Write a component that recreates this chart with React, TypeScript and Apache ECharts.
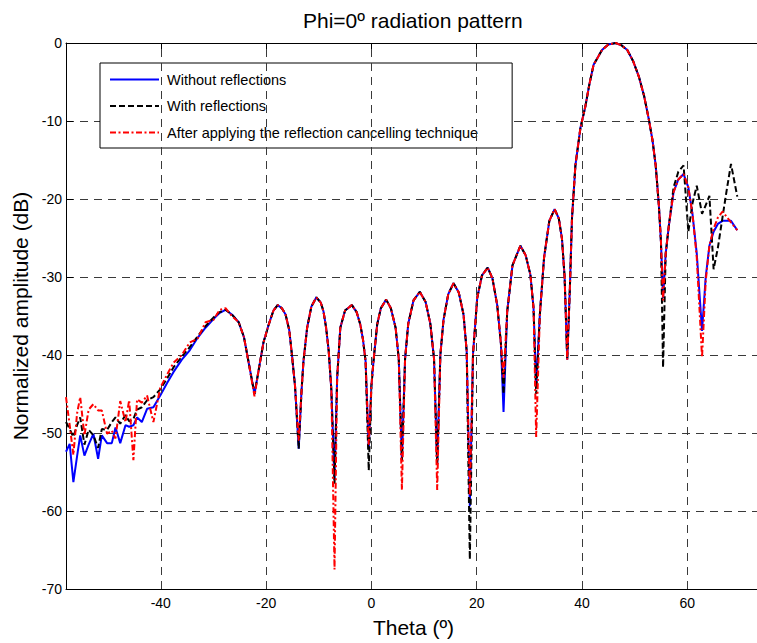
import React, { useEffect, useRef } from "react";
import * as echarts from "echarts";

// Theta (degrees)
const THETA = [
  -58.0, -57.3, -56.6, -55.9, -55.3, -54.5, -53.7, -52.8, -51.9, -51.2, -50.2, -49.3, -48.6, -47.7, -46.7, -46.0, -45.2, -44.5, -43.6, -42.6, -41.4, -40.1, -38.8, -37.6, -36.0,
  -34.5, -33.0, -31.5, -30.0, -28.8, -27.7, -26.5, -25.2, -24.2, -23.3,
  -22.2, -21.4, -20.5, -19.5, -18.6, -17.8, -17.0, -16.3, -15.6, -15.1,
  -14.5, -13.8, -13.3, -12.9, -12.2, -11.4, -10.45, -9.6, -9.1, -8.6, -8.1,
  -7.6, -7.0, -6.5, -5.9, -5.0, -3.7, -2.8, -2.1, -1.6, -1.1, -0.5,
  0.0, 0.4, 1.1, 1.8, 2.8, 3.7, 4.6, 5.2, 5.8, 6.4,
  7.0, 8.0, 9.2, 10.3, 11.2, 11.9, 12.5, 13.1, 13.7, 14.6,
  15.6, 16.6, 17.5, 18.1, 18.7, 19.3, 20.1, 21.0, 22.1, 23.0,
  23.9, 24.6, 25.1, 25.8, 26.8, 28.3, 29.3, 30.2, 30.8, 31.3,
  32.0, 32.8, 33.8, 34.8, 35.6, 36.2, 36.7, 37.2, 37.7, 38.1,
  38.75, 39.7, 40.65, 41.4, 42.2, 43.8, 45.0, 46.4, 47.5, 48.6,
  49.7, 50.8, 51.8, 52.7, 53.4, 54.0, 54.6, 55.0, 55.4, 55.9,
  56.5, 57.4, 58.3, 59.3, 60.2, 61.0, 61.8, 62.8, 63.5, 64.2,
  65.0, 65.8, 66.7, 67.5, 68.3, 69.5,
];

// Normalized amplitude (dB) — without reflections
const WITHOUT_REFLECTIONS = [
  -52.4, -51.4, -56.3, -53.0, -50.3, -52.9, -51.5, -50.1, -53.3, -50.3, -51.3, -51.3, -49.3, -51.3, -49.0, -49.2, -49.0, -48.0, -48.6, -46.9, -46.7, -45.2, -43.6, -42.2, -40.6,
  -39.4, -37.8, -36.5, -35.4, -34.6, -34.2, -34.8, -35.8, -37.7, -41.0,
  -45.0, -41.9, -38.4, -36.1, -34.3, -33.6, -34.0, -34.8, -36.8, -39.9,
  -44.0, -52.0, -45.0, -40.8, -36.5, -33.8, -32.6, -33.3, -34.4, -36.5, -39.5,
  -44.5, -56.0, -42.9, -36.5, -34.3, -33.6, -34.5, -36.1, -38.0, -40.8, -52.0,
  -44.0, -40.8, -36.1, -34.0, -32.9, -34.0, -36.5, -40.5, -53.5, -40.5,
  -36.0, -33.0, -31.9, -33.2, -36.0, -40.5, -54.0, -40.0, -35.5, -32.2,
  -30.8, -32.0, -34.8, -39.5, -59.4, -39.9, -32.7, -29.8, -28.8, -30.2,
  -33.6, -38.5, -47.3, -34.4, -28.5, -26.0, -27.2, -29.7, -34.0, -44.0,
  -34.8, -27.5, -22.8, -21.3, -22.5, -25.1, -30.0, -40.6, -31.4, -22.5,
  -15.7, -10.9, -8.1, -5.3, -2.8, -0.9, -0.2, 0.0, -0.3, -0.9,
  -2.3, -4.3, -6.8, -9.8, -12.5, -15.7, -20.8, -25.5, -32.7, -27.0,
  -23.4, -19.1, -17.5, -16.8, -18.5, -22.0, -27.0, -36.9, -30.0, -26.0,
  -24.2, -23.2, -22.8, -22.8, -22.8, -24.0,
];

// With reflections
const WITH_REFLECTIONS = [
  -48.6, -49.5, -50.5, -49.0, -48.0, -51.5, -49.6, -50.3, -51.9, -49.5, -49.6, -48.6, -48.0, -48.8, -47.7, -48.5, -48.2, -47.0, -46.7, -45.8, -45.4, -44.4, -43.0, -41.6, -40.2,
  -39.0, -37.6, -36.3, -35.2, -34.5, -34.2, -34.8, -35.8, -37.7, -41.0,
  -45.0, -41.9, -38.4, -36.1, -34.3, -33.6, -34.0, -34.8, -36.8, -39.9,
  -44.0, -52.0, -45.0, -40.8, -36.5, -33.8, -32.6, -33.3, -34.4, -36.5, -39.5,
  -44.5, -56.5, -42.9, -36.5, -34.3, -33.6, -34.5, -36.1, -38.0, -40.8, -54.8,
  -44.0, -40.8, -36.1, -34.0, -32.9, -34.0, -36.5, -40.5, -53.5, -40.5,
  -36.0, -33.0, -31.9, -33.2, -36.0, -40.5, -54.0, -40.0, -35.5, -32.2,
  -30.8, -32.0, -34.8, -39.5, -66.2, -39.9, -32.7, -29.8, -28.8, -30.2,
  -33.6, -38.5, -45.0, -34.4, -28.5, -26.0, -27.2, -29.7, -34.0, -45.0,
  -34.8, -27.5, -22.8, -21.3, -22.5, -25.1, -30.0, -40.6, -31.4, -22.5,
  -15.7, -10.9, -8.1, -5.3, -2.8, -0.9, -0.2, 0.0, -0.3, -0.9,
  -2.3, -4.3, -6.8, -9.8, -12.5, -15.7, -20.8, -25.5, -41.6, -27.0,
  -23.4, -18.5, -16.5, -15.7, -24.2, -20.5, -18.3, -21.9, -20.8, -19.6,
  -29.0, -26.3, -22.3, -18.8, -15.5, -19.7,
];

// After applying the reflection cancelling technique
const AFTER_CANCELLING = [
  -45.4, -49.0, -52.8, -47.5, -45.4, -50.3, -47.0, -46.3, -47.1, -47.1, -50.1, -49.7, -50.7, -45.9, -48.6, -45.8, -53.5, -45.7, -46.1, -45.2, -48.6, -44.2, -42.5, -41.0, -40.0,
  -38.4, -37.9, -35.8, -35.5, -34.2, -34.0, -35.0, -35.8, -37.7, -41.0,
  -45.3, -41.9, -38.4, -36.1, -34.3, -33.6, -34.0, -34.8, -36.8, -39.9,
  -44.0, -51.0, -45.0, -40.8, -36.5, -33.8, -32.6, -33.3, -34.4, -36.5, -39.5,
  -44.5, -67.5, -42.9, -36.5, -34.3, -33.6, -34.5, -36.1, -38.0, -40.8, -51.5,
  -44.0, -40.8, -36.1, -34.0, -32.9, -34.0, -36.5, -40.5, -57.3, -40.5,
  -36.0, -33.0, -31.9, -33.2, -36.0, -40.5, -57.3, -40.0, -35.5, -32.2,
  -30.8, -32.0, -34.8, -39.5, -58.0, -39.9, -32.7, -29.8, -28.8, -30.2,
  -33.6, -38.5, -42.9, -34.4, -28.5, -26.0, -27.2, -29.7, -34.0, -50.5,
  -34.8, -27.5, -22.8, -21.3, -22.5, -25.1, -30.0, -40.6, -31.4, -22.5,
  -15.7, -10.9, -8.1, -5.3, -2.8, -0.9, -0.2, 0.0, -0.3, -0.9,
  -2.3, -4.3, -6.8, -9.8, -12.5, -15.7, -20.8, -25.5, -33.0, -27.0,
  -23.4, -19.1, -17.5, -16.8, -18.5, -22.0, -27.5, -40.3, -30.5, -26.0,
  -23.8, -22.4, -21.6, -22.3, -23.0, -24.0,
];

const SERIES_NAMES = [
  "Without reflections",
  "With reflections",
  "After applying the reflection cancelling technique",
];
const X_TICKS = [-40, -20, 0, 20, 40, 60];
const X_MIN = -58;
const X_MAX = 74;
const Y_MIN = -70;
const Y_MAX = 0;
const Y_STEP = 10;

const FONT = "'Liberation Sans', Arial, Helvetica, sans-serif";
const GRID_LINE = { color: "#3a3a3a", width: 1, type: [8, 6] as number[] };

export default function App() {
  const ref = useRef<HTMLDivElement>(null);

  useEffect(() => {
    if (!ref.current) return;
    const chart = echarts.init(ref.current, undefined, { renderer: "svg" });
    const pairs = (vals: number[]) => THETA.map((t, i) => [t, vals[i]]);

    const option: any = {
      animation: false,
      backgroundColor: "#ffffff",
      textStyle: { fontFamily: FONT },
      title: {
        text: "Phi=0º radiation pattern",
        left: 303,
        top: 10,
        padding: 0,
        textStyle: { fontFamily: FONT, fontSize: 21, fontWeight: "normal", color: "#000" },
      },
      legend: {
        data: SERIES_NAMES,
        orient: "vertical",
        left: 100,
        top: 63,
        padding: [9, 34, 8, 9],
        itemWidth: 49,
        itemHeight: 14,
        itemGap: 11.5,
        backgroundColor: "#ffffff",
        borderColor: "#000",
        borderWidth: 1,
        borderRadius: 0,
        selectedMode: false,
        itemStyle: { opacity: 0, borderWidth: 0 },
        textStyle: { fontFamily: FONT, fontSize: 14.5, color: "#000", padding: [0, 0, 0, 3] },
      },
      grid: { left: 66, top: 43, width: 695, height: 549, containLabel: false },
      xAxis: [
        {
          type: "value",
          min: X_MIN,
          max: X_MAX,
          name: "Theta (º)",
          nameLocation: "middle",
          nameGap: 28,
          nameTextStyle: { fontFamily: FONT, fontSize: 21, color: "#000" },
          axisLine: { show: true, onZero: false, lineStyle: { color: "#000", width: 1 } },
          axisTick: { show: true, inside: true, length: 7, customValues: X_TICKS, lineStyle: { color: "#000" } },
          axisLabel: { show: true, customValues: X_TICKS, margin: 7, fontSize: 14, color: "#000", fontFamily: FONT },
          splitLine: { show: false },
        },
        {
          type: "value",
          position: "top",
          min: X_MIN,
          max: X_MAX,
          axisLine: { show: true, onZero: false, lineStyle: { color: "#000", width: 1 } },
          axisTick: { show: true, inside: true, length: 7, customValues: X_TICKS, lineStyle: { color: "#000" } },
          axisLabel: { show: false },
          splitLine: { show: false },
        },
      ],
      yAxis: {
        type: "value",
        min: Y_MIN,
        max: Y_MAX,
        interval: Y_STEP,
        name: "Normalized amplitude (dB)",
        nameLocation: "middle",
        nameGap: 33,
        nameTextStyle: { fontFamily: FONT, fontSize: 21, color: "#000" },
        axisLine: { show: true, onZero: false, lineStyle: { color: "#000", width: 1 } },
        axisTick: { show: true, inside: true, length: 7, lineStyle: { color: "#000" } },
        axisLabel: { margin: 4, fontSize: 14, color: "#000", fontFamily: FONT },
        splitLine: { show: true, lineStyle: GRID_LINE },
      },
      series: [
        {
          name: "xgrid",
          type: "line",
          data: [],
          silent: true,
          z: 1,
          markLine: {
            silent: true,
            symbol: ["none", "none"],
            label: { show: false },
            lineStyle: GRID_LINE,
            data: X_TICKS.map((v) => ({ xAxis: v })),
          },
        },
        {
          name: SERIES_NAMES[0],
          type: "line",
          data: pairs(WITHOUT_REFLECTIONS),
          symbol: "none",
          showSymbol: false,
          color: "#0000ff",
          lineStyle: { color: "#0000ff", width: 2, type: "solid" },
          z: 3,
        },
        {
          name: SERIES_NAMES[1],
          type: "line",
          data: pairs(WITH_REFLECTIONS),
          symbol: "none",
          showSymbol: false,
          color: "#000000",
          lineStyle: { color: "#000000", width: 2, type: [6, 3] },
          z: 4,
        },
        {
          name: SERIES_NAMES[2],
          type: "line",
          data: pairs(AFTER_CANCELLING),
          symbol: "none",
          showSymbol: false,
          color: "#ff0000",
          lineStyle: { color: "#ff0000", width: 2, type: [6, 2.5, 2, 2.5] },
          z: 5,
        },
      ],
    };

    chart.setOption(option);
    return () => chart.dispose();
  }, []);

  return (
    <div style={{ position: "fixed", left: 0, top: 0, width: 757, height: 643, overflow: "hidden", background: "#fff" }}>
      <div ref={ref} style={{ width: 765, height: 643 }} />
    </div>
  );
}
